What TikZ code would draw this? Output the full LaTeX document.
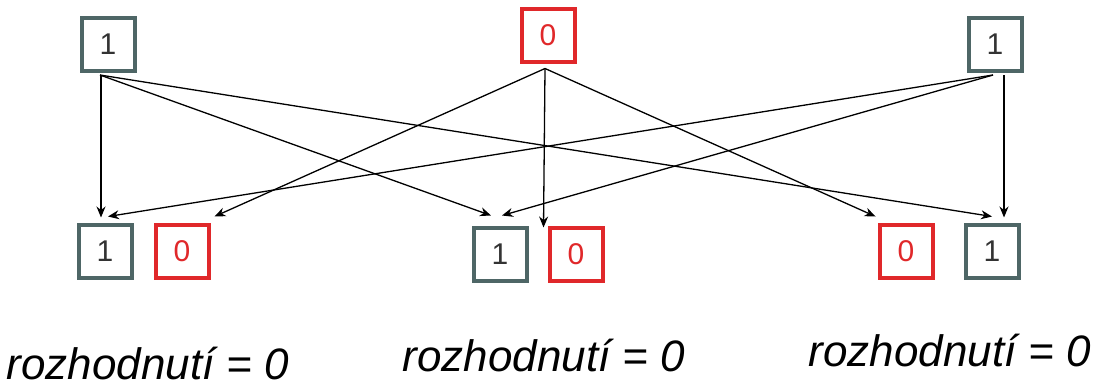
\documentclass[tikz,border=0pt]{standalone}
\usepackage{fontspec}
\setmainfont{Liberation Sans}
\usetikzlibrary{arrows.meta,calc}
\definecolor{boxgray}{HTML}{4E6666}
\definecolor{boxred}{HTML}{E0282A}
\definecolor{digit}{HTML}{333333}
\tikzset{
  onebox/.style={draw=boxgray, line width=4pt, minimum size=53pt, inner sep=0pt,
    text=digit, font=\fontsize{30}{30}\selectfont},
  zerobox/.style={draw=boxred, line width=4pt, minimum size=53pt, inner sep=0pt,
    text=boxred, font=\fontsize{30}{30}\selectfont},
  conn/.style={line width=1.3pt, -{Stealth[length=11pt,width=9pt]}},
  lbl/.style={font=\fontsize{44}{44}\selectfont\itshape, anchor=base, inner sep=0pt}
}
\begin{document}
\begin{tikzpicture}[x=1pt,y=-1pt]
\useasboundingbox (0,0) rectangle (1099,386);
% top row
\node[onebox] (tl) at (108,44) {1};
\node[zerobox] (tm) at (548,35) {0};
\node[onebox] (tr) at (995,44) {1};
% bottom row
\node[onebox] (b1) at (105,251) {1};
\node[zerobox] (b2) at (182,251) {0};
\node[onebox] (b3) at (500,254) {1};
\node[zerobox] (b4) at (576,254) {0};
\node[zerobox] (b5) at (906,251) {0};
\node[onebox] (b6) at (992,251) {1};
% sources
\coordinate (sL) at ($(tl.south)+(-8,2.5)$);
\coordinate (sLv) at ($(tl.south)+(-7,2.5)$);
\coordinate (sM) at ($(tm.south)+(-3,5)$);
\coordinate (sR) at ($(tr.south)+(-2,2.5)$);
\coordinate (sRv) at ($(tr.south)+(9,2.5)$);
% top-left
\draw[conn] (sLv) -- ($(b1.north)+(-4,-5)$);
\draw[conn] (sL) -- ($(b3.north)+(-9,-10)$);
\draw[conn] (sL) -- ($(b6.north)+(0,-6)$);
% top-middle
\draw[conn] (sM) -- ($(b2.north east)+(4,-6)$);
\draw[conn] (sM) -- ($(b4.north west)+(-4,2)$);
\draw[conn] (sM) -- ($(b5.north west)+(-2,-6)$);
% top-right
\draw[conn] (sR) -- ($(b1.north)+(3,-6)$);
\draw[conn] (sR) -- ($(b3.north)+(2,-10)$);
\draw[conn] (sRv) -- ($(b6.north)+(12,-5)$);
% labels
\node[lbl] (l1) at (148,379) {rozhodnutí = 0};
\node[lbl] (l2) at (544,371) {rozhodnutí = 0};
\node[lbl] (l3) at (950,366) {rozhodnutí = 0};
\end{tikzpicture}
\end{document}
